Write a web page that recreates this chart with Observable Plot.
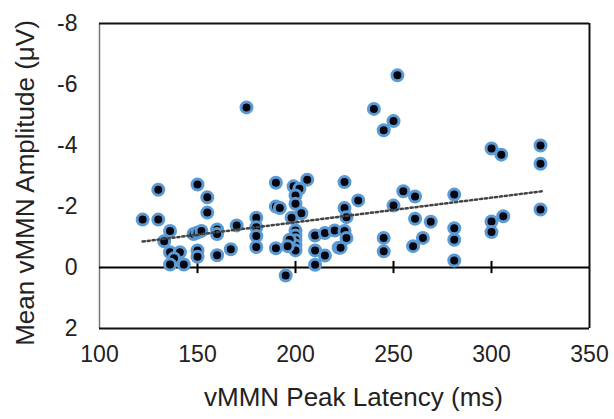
<!DOCTYPE html>
<html>
<head>
<meta charset="utf-8">
<script src="https://cdn.jsdelivr.net/npm/d3@7"></script>
<script src="https://cdn.jsdelivr.net/npm/@observablehq/plot@0.6"></script>
<style>
  html, body { margin: 0; padding: 0; background: #fff; }
  svg { display: block; overflow: visible; }
</style>
</head>
<body>
<div id="chart"></div>
<script>
// Peak latency (ms)
const latency = [
  122,130,130,136,133,136,141,138,136,143,
  150,155,155,148,150,152,150,150,160,160,
  160,167,170,175,180,180,180,180,190,190,
  192,190,195,206,199,202,200,200,203,198,
  200,200,200,200,197,200,196,210,210,210,
  215,215,220,222,225,225,226,225,226,223,
  232,240,245,250,252,255,261,250,261,269,
  245,245,265,260,281,281,281,281,300,305,
  325,325,300,300,306,325
];
// Mean amplitude (µV)
const amplitude = [
  -1.57,-2.55,-1.57,-1.2,-0.86,-0.5,-0.5,-0.3,-0.1,-0.1,
  -2.72,-2.3,-1.8,-1.1,-1.15,-1.2,-0.56,-0.35,-1.25,-1.1,
  -0.4,-0.6,-1.38,-5.25,-1.63,-1.32,-1.03,-0.67,-2.78,-2.0,
  -1.95,-0.63,0.26,-2.88,-2.66,-2.58,-2.36,-2.09,-1.78,-1.63,
  -1.21,-1.05,-0.89,-0.72,-0.91,-0.56,-0.7,-1.05,-0.56,-0.09,
  -1.13,-0.39,-1.21,-0.65,-2.8,-1.95,-1.65,-1.2,-0.97,-0.65,
  -2.2,-5.2,-4.5,-4.8,-6.3,-2.5,-2.33,-2.03,-1.6,-1.5,
  -0.97,-0.53,-0.97,-0.7,-2.39,-1.29,-0.91,-0.23,-3.9,-3.7,
  -4.0,-3.4,-1.51,-1.16,-1.68,-1.9
];
// Trend line end points
const trendX = [122, 326];
const trendY = [-0.85, -2.5];
// Tick labels
const xTicks = [100, 150, 200, 250, 300, 350];
const yTicks = [-8, -6, -4, -2, 0, 2];
const zeroTicks = [150, 200, 250, 300];

const points = latency.map((x, i) => ({x, y: amplitude[i]}));
const trend = trendX.map((x, i) => ({x, y: trendY[i]}));

const font = "'Liberation Sans', Arial, sans-serif";

const chart = Plot.plot({
  width: 614,
  height: 419,
  marginLeft: 99,
  marginRight: 25,
  marginTop: 23,
  marginBottom: 91,
  style: {fontFamily: font, fontSize: "23px", color: "#222", background: "#fff"},
  x: {domain: [100, 350], ticks: xTicks, label: null},
  y: {domain: [2, -8], ticks: yTicks, label: null},
  marks: [
    Plot.axisX({ticks: xTicks, tickSize: 0, tickPadding: 17, label: null, fontSize: 23}),
    Plot.axisY({ticks: yTicks, tickSize: 0, tickPadding: 22, label: null, fontSize: 23, tickFormat: d => String(d)}),
    Plot.ruleX([100], {stroke: "#777", strokeWidth: 1.5}),
    Plot.ruleX([350], {stroke: "#111", strokeWidth: 2}),
    Plot.ruleY([-8], {stroke: "#111", strokeWidth: 2}),
    Plot.ruleY([2], {stroke: "#111", strokeWidth: 2}),
    Plot.ruleY([0], {stroke: "#000", strokeWidth: 2}),
    Plot.ruleX(zeroTicks, {x: d => d, y1: -0.2, y2: 0.2, stroke: "#000", strokeWidth: 2}),
    Plot.dot(points, {x: "x", y: "y", r: 5.5, fill: "#050510", stroke: "#5b9bd5", strokeWidth: 3}),
    Plot.line(trend, {x: "x", y: "y", stroke: "#444", strokeWidth: 2.5, strokeDasharray: "2.2,2.8"}),
    Plot.text(["Mean vMMN Amplitude (μV)"], {frameAnchor: "left", textAnchor: "middle", dx: -74, dy: 7, rotate: -90, fontSize: 26, fill: "#222"}),
    Plot.text(["vMMN Peak Latency (ms)"], {frameAnchor: "bottom", textAnchor: "middle", dx: 9, dy: 77, fontSize: 26, fill: "#222"})
  ]
});
document.getElementById("chart").appendChild(chart);
</script>
</body>
</html>
